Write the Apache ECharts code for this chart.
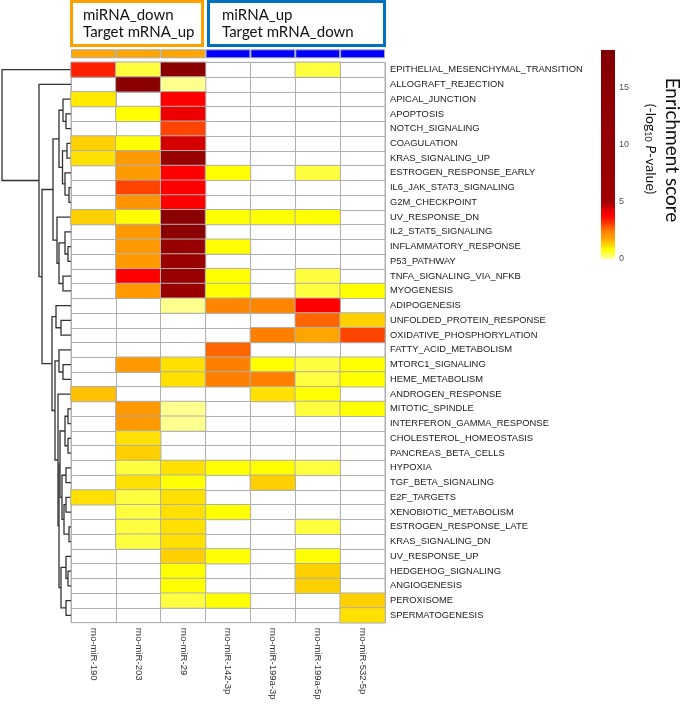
<!DOCTYPE html>
<html><head><meta charset="utf-8">
<script src="https://cdn.jsdelivr.net/npm/echarts@6/dist/echarts.min.js"></script>
<style>html,body{margin:0;padding:0;background:#fff}#c{width:685px;height:706px}</style>
</head><body><div id="c"></div>
<script>
// ---------- data ----------
const mirnas = ['rno-miR-190','rno-miR-203','rno-miR-29','rno-miR-142-3p','rno-miR-199a-3p','rno-miR-199a-5p','rno-miR-532-5p'];
const groups = ['down','down','down','up','up','up','up'];
const pathways = ['EPITHELIAL_MESENCHYMAL_TRANSITION','ALLOGRAFT_REJECTION','APICAL_JUNCTION','APOPTOSIS','NOTCH_SIGNALING','COAGULATION','KRAS_SIGNALING_UP','ESTROGEN_RESPONSE_EARLY','IL6_JAK_STAT3_SIGNALING','G2M_CHECKPOINT','UV_RESPONSE_DN','IL2_STAT5_SIGNALING','INFLAMMATORY_RESPONSE','P53_PATHWAY','TNFA_SIGNALING_VIA_NFKB','MYOGENESIS','ADIPOGENESIS','UNFOLDED_PROTEIN_RESPONSE','OXIDATIVE_PHOSPHORYLATION','FATTY_ACID_METABOLISM','MTORC1_SIGNALING','HEME_METABOLISM','ANDROGEN_RESPONSE','MITOTIC_SPINDLE','INTERFERON_GAMMA_RESPONSE','CHOLESTEROL_HOMEOSTASIS','PANCREAS_BETA_CELLS','HYPOXIA','TGF_BETA_SIGNALING','E2F_TARGETS','XENOBIOTIC_METABOLISM','ESTROGEN_RESPONSE_LATE','KRAS_SIGNALING_DN','UV_RESPONSE_UP','HEDGEHOG_SIGNALING','ANGIOGENESIS','PEROXISOME','SPERMATOGENESIS'];
const _ = null;
// enrichment score (-log10 P) per miRNA, one value per pathway (null = not enriched)
const mir190   = [3.4,_,1.0,_,_,1.3,1.1,_,_,_,1.3,_,_,_,_,_,_,_,_,_,_,_,1.5,_,_,_,_,_,_,1.1,_,_,_,_,_,_,_,_];
const mir203   = [0.5,15,_,0.8,_,0.8,2.0,2.0,3.0,2.1,0.8,2.0,2.0,2.0,3.8,2.0,_,_,_,_,2.0,_,_,2.0,2.0,1.1,1.3,0.5,1.1,0.5,0.5,0.5,0.5,_,_,_,_,_];
const mir29    = [15,0.1,3.8,4.1,3.0,4.4,8,3.8,3.8,3.8,15,15,8,8,8,8,0.1,_,_,_,1.1,1.1,_,0.1,0.1,_,_,1.1,0.8,1.1,1.1,1.1,1.1,1.3,0.8,0.8,0.5,_];
const mir142   = [_,_,_,_,_,_,_,0.8,_,_,0.8,_,0.8,_,0.8,0.8,2.3,_,_,2.7,2.4,2.4,_,_,_,_,_,0.8,_,_,0.8,_,_,0.8,_,_,0.8,_];
const mir199a3 = [_,_,_,_,_,_,_,_,_,_,0.8,_,_,_,_,_,2.3,_,2.4,_,0.8,2.4,1.1,_,_,_,_,0.8,1.3,_,_,_,_,_,_,_,_,_];
const mir199a5 = [0.5,_,_,_,_,_,_,0.5,_,_,0.8,_,_,_,0.5,0.5,3.8,2.7,1.8,_,0.5,0.5,0.8,0.5,_,_,_,0.5,_,_,_,0.5,_,0.8,1.3,1.3,_,_];
const mir532   = [_,_,_,_,_,_,_,_,_,_,_,_,_,_,_,0.8,_,1.3,3.0,_,0.8,0.8,_,0.8,_,_,_,_,_,_,_,_,_,_,_,_,1.3,1.1];
const columns = [mir190, mir203, mir29, mir142, mir199a3, mir199a5, mir532];
const colorTicks = [0, 5, 10, 15];
const scoreMax = 18.3;
// row dendrogram: [height, left, right]; leaves are row indices
const dendrogram = [69, 0, [32, 1, [29,
  [18, [12, [8, 2, [5, 3, 4]], [8.5, [4, 5, 6], [6, 7, [2, 8, 9]]]],
       [14, 10, [12, [6, 11, [3, 12, 13]], [8, 14, 15]]]],
  [19, [15, 16, [10, 17, 18]],
       [16, [12, 19, [8, 20, 21]],
            [13, 22, [12,
                 [11, [6, [3, 23, 24], [3, 25, 26]], [9, [5, 27, 28], [7, [5, 29, 30], [2, 31, 32]]]],
                 [10, [5, 33, [3, 34, 35]], [5, 36, 37]]]]]]]]];

// ---------- styling ----------
const colorStops = [[0,'#FFFFA0'],[0.5,'#FFFF40'],[0.8,'#FFFF00'],[1.1,'#FFE000'],[1.3,'#FFD000'],[1.5,'#FFC000'],[1.8,'#FFA500'],[2.0,'#FF9900'],[2.4,'#FF8000'],[2.7,'#FF6600'],[3.0,'#FF4400'],[3.4,'#FF2000'],[3.8,'#FF0000'],[4.1,'#EE0000'],[4.4,'#D40000'],[5.0,'#A00000'],[8,'#990000'],[15,'#8B0000'],[18.3,'#800000']];
function hex2rgb(h){return [parseInt(h.substr(1,2),16),parseInt(h.substr(3,2),16),parseInt(h.substr(5,2),16)];}
function colorAt(v){
  for(let i=1;i<colorStops.length;i++){
    if(v<=colorStops[i][0]){
      const [v0,c0]=colorStops[i-1],[v1,c1]=colorStops[i];
      const t=(v-v0)/(v1-v0), a=hex2rgb(c0), b=hex2rgb(c1);
      return 'rgb('+a.map((x,k)=>Math.round(x+(b[k]-x)*t)).join(',')+')';
    }
  }
  return colorStops[colorStops.length-1][1];
}
const sampled=[]; for(let v=0; v<=scoreMax+1e-9; v+=0.05) sampled.push(colorAt(v));

// heatmap data
const heat=[];
columns.forEach((col,x)=>col.forEach((v,y)=>{ if(v!==null) heat.push([x,y,v]); }));

// dendrogram segments
const dnodes=[];
function walk(n){
  if(typeof n==='number') return {y:n,h:0};
  const l=walk(n[1]), r=walk(n[2]);
  dnodes.push([n[0], l.y, r.y, l.h, r.h]);
  return {y:(l.y+r.y)/2, h:n[0]};
}
walk(dendrogram);

const gridTop=62.3, gridH=560.4, gridL=71, gridW=314;
const chart=echarts.init(document.getElementById('c'),null,{renderer:'canvas'});
chart.setOption({
  animation:false,
  backgroundColor:'#fff',
  grid:[
    {left:2, width:69, top:gridTop, height:gridH},
    {left:gridL, width:gridW, top:gridTop, height:gridH, show:true, borderColor:'#b0b0b0', borderWidth:1, backgroundColor:'#fff'},
    {left:gridL, width:gridW, top:49.3, height:9},
    {left:601, width:14, top:50, height:209}
  ],
  xAxis:[
    {gridIndex:0, type:'value', min:0, max:dendrogram[0], inverse:true, show:false},
    {gridIndex:1, type:'category', data:mirnas, position:'bottom',
      axisLine:{show:false}, axisTick:{show:false},
      axisLabel:{rotate:-90, fontSize:9.5, color:'#333', margin:5, fontFamily:'Liberation Sans', interval:0},
      splitLine:{show:true, interval:0, lineStyle:{color:'#b0b0b0', width:1}}},
    {gridIndex:2, type:'category', data:groups.map((g,i)=>i), show:false},
    {gridIndex:3, type:'category', data:[''], show:false}
  ],
  yAxis:[
    {gridIndex:0, type:'value', min:-0.5, max:pathways.length-0.5, inverse:true, show:false},
    {gridIndex:1, type:'category', data:pathways, inverse:true, position:'right',
      axisLine:{show:false}, axisTick:{show:false},
      axisLabel:{fontSize:9.4, color:'#1a1a1a', margin:5, fontFamily:'Liberation Sans', interval:0},
      splitLine:{show:true, interval:0, lineStyle:{color:'#b0b0b0', width:1}}},
    {gridIndex:2, type:'value', min:0, max:1, show:false},
    {gridIndex:3, type:'value', min:0, max:scoreMax, interval:5, position:'right',
      axisLine:{show:false}, axisTick:{show:false}, splitLine:{show:false},
      axisLabel:{fontSize:9, color:'#555', margin:4, fontFamily:'Liberation Sans', showMaxLabel:false,
        formatter:v=>colorTicks.indexOf(v)>=0?String(v):''}}
  ],
  visualMap:{type:'continuous', min:0, max:scoreMax, seriesIndex:1, show:false, inRange:{color:sampled}},
  series:[
    {type:'custom', xAxisIndex:0, yAxisIndex:0, data:dnodes, encode:{x:[0,3,4], y:[1,2]}, silent:true,
      renderItem:function(params, api){
        const h=api.value(0), yl=api.value(1), yr=api.value(2), hl=api.value(3), hr=api.value(4);
        return {type:'polyline', shape:{points:[api.coord([hl,yl]),api.coord([h,yl]),api.coord([h,yr]),api.coord([hr,yr])]},
          style:{stroke:'#333', lineWidth:1.3, fill:null}};
      }},
    {type:'heatmap', xAxisIndex:1, yAxisIndex:1, data:heat,
      itemStyle:{borderColor:'#b0b0b0', borderWidth:1}, emphasis:{disabled:true}},
    {type:'bar', xAxisIndex:2, yAxisIndex:2, barWidth:'100%', silent:true,
      data:groups.map(g=>({value:1, itemStyle:{color:g==='down'?'#FFA500':'#0000FF'}})),
      itemStyle:{borderColor:'#aaaaaa', borderWidth:1}},
    {type:'bar', xAxisIndex:3, yAxisIndex:3, barWidth:'100%', silent:true, data:[scoreMax],
      itemStyle:{color:{type:'linear', x:0, y:0, x2:0, y2:1,
        colorStops:colorStops.map(s=>({offset:1-s[0]/scoreMax, color:s[1]})).reverse()}}}
  ],
  graphic:[
    {type:'rect', shape:{x:71.5,y:1.5,width:131,height:44}, style:{fill:'#fff', stroke:'#FFA000', lineWidth:3}},
    {type:'rect', shape:{x:208.5,y:1.5,width:176,height:44}, style:{fill:'#fff', stroke:'#0070C0', lineWidth:3}},
    {type:'text', left:83, top:7, style:{text:'miRNA_down\nTarget mRNA_up', fontSize:15, fontFamily:'Lato', fill:'#111', lineHeight:17}},
    {type:'text', left:222, top:7, style:{text:'miRNA_up\nTarget mRNA_down', fontSize:15, fontFamily:'Lato', fill:'#111', lineHeight:17}},
    {type:'text', x:672, y:150, rotation:-Math.PI/2,
      style:{text:'Enrichment score', fontSize:19, fontFamily:'Lato', fill:'#111', align:'center', verticalAlign:'middle'}},
    {type:'text', x:651, y:149, rotation:-Math.PI/2,
      style:{text:'(-log{sub|10} {it|P}-value)', fontSize:14, fontFamily:'Lato', fill:'#111', align:'center', verticalAlign:'middle',
        rich:{sub:{fontSize:9, fontFamily:'Lato', fill:'#111', padding:[7,0,0,0]}, it:{fontSize:14, fontStyle:'italic', fontFamily:'Lato', fill:'#111'}}}}
  ]
});
</script></body></html>
